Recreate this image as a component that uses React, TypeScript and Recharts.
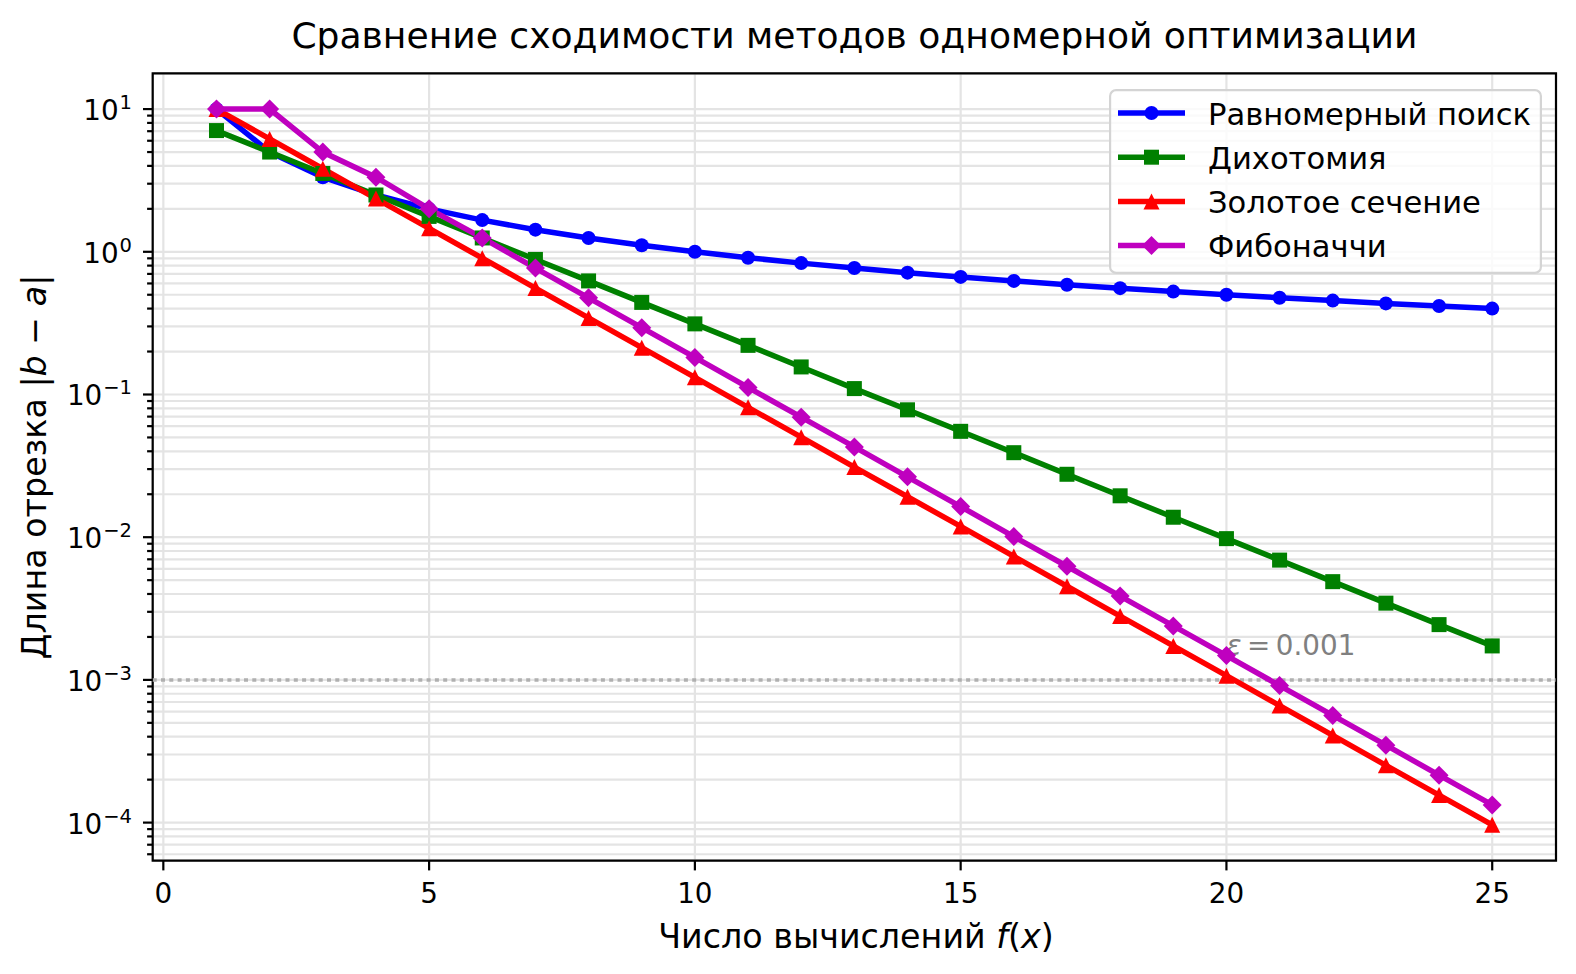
import React from 'react';
import { LineChart, Line, XAxis, YAxis, CartesianGrid, Legend, ReferenceLine, ReferenceDot, ReferenceArea } from 'recharts';

// number of f(x) evaluations
const evals = [1, 2, 3, 4, 5, 6, 7, 8, 9, 10, 11, 12, 13, 14, 15, 16, 17, 18, 19, 20, 21, 22, 23, 24, 25];

// interval length |b - a| per method
const uniformSearch = [10, 5, 3.333, 2.5, 2, 1.667, 1.429, 1.25, 1.111, 1.0, 0.909, 0.833, 0.769, 0.714, 0.667, 0.625, 0.588, 0.556, 0.526, 0.5, 0.476, 0.455, 0.435, 0.417, 0.4];
const dichotomy = [7.07, 5.0, 3.54, 2.5, 1.77, 1.25, 0.884, 0.625, 0.442, 0.3125, 0.221, 0.156, 0.11, 0.0781, 0.0552, 0.0391, 0.0276, 0.0195, 0.0138, 0.00977, 0.00691, 0.00488, 0.00345, 0.00244, 0.00173];
const goldenSection = [10, 6.18, 3.82, 2.36, 1.46, 0.902, 0.557, 0.344, 0.213, 0.132, 0.0813, 0.0502, 0.031, 0.0192, 0.0119, 0.00733, 0.00453, 0.0028, 0.00173, 0.00107, 0.000661, 0.000408, 0.000252, 0.000156, 0.0000964];
const fibonacci = [10, 10, 5, 3.33, 2, 1.25, 0.769, 0.476, 0.294, 0.182, 0.112, 0.0694, 0.0429, 0.0265, 0.0164, 0.0101, 0.00626, 0.00387, 0.00239, 0.00148, 0.000913, 0.000564, 0.000349, 0.000215, 0.000133];

const xTicks = [0, 5, 10, 15, 20, 25];
const yMajorTicks = [1e-4, 1e-3, 1e-2, 1e-1, 1, 10];
const yMinorTicks = [
  6e-5, 7e-5, 8e-5, 9e-5,
  2e-4, 3e-4, 4e-4, 5e-4, 6e-4, 7e-4, 8e-4, 9e-4,
  2e-3, 3e-3, 4e-3, 5e-3, 6e-3, 7e-3, 8e-3, 9e-3,
  2e-2, 3e-2, 4e-2, 5e-2, 6e-2, 7e-2, 8e-2, 9e-2,
  0.2, 0.3, 0.4, 0.5, 0.6, 0.7, 0.8, 0.9,
  2, 3, 4, 5, 6, 7, 8, 9,
];
const yTicks = [...yMajorTicks, ...yMinorTicks].sort((a, b) => a - b);

const epsilon = 0.001;

const rows = evals.map((n, i) => ({
  n,
  uniform: uniformSearch[i],
  dich: dichotomy[i],
  golden: goldenSection[i],
  fib: fibonacci[i],
}));

const series = [
  { key: 'uniform', name: 'Равномерный поиск', color: '#0000ff', shape: 'circle' },
  { key: 'dich', name: 'Дихотомия', color: '#008000', shape: 'square' },
  { key: 'golden', name: 'Золотое сечение', color: '#ff0000', shape: 'triangle' },
  { key: 'fib', name: 'Фибоначчи', color: '#bf00bf', shape: 'diamond' },
];

const FONT = '"DejaVu Sans", sans-serif';
const TICK_FS = 27.8;

function marker(shape: string, cx: number, cy: number, color: string, key?: any) {
  if (cx == null || cy == null) return <g key={key} />;
  if (shape === 'circle') return <circle key={key} cx={cx} cy={cy} r={7} fill={color} />;
  if (shape === 'square') return <rect key={key} x={cx - 7.5} y={cy - 7.5} width={15} height={15} fill={color} />;
  if (shape === 'triangle') {
    const h = 8;
    return <polygon key={key} points={`${cx},${cy - h} ${cx - h},${cy + h} ${cx + h},${cy + h}`} fill={color} />;
  }
  const d = 9.5;
  return <polygon key={key} points={`${cx},${cy - d} ${cx + d},${cy} ${cx},${cy + d} ${cx - d},${cy}`} fill={color} />;
}

const YTick = (props: any) => {
  const { x, y, payload } = props;
  const lg = Math.log10(payload.value);
  const e = Math.round(lg);
  const major = Math.abs(lg - e) < 1e-6;
  return (
    <g>
      <line x1={x - (major ? 9.7 : 5.6)} x2={x} y1={y} y2={y} stroke="#000" strokeWidth={2.2} />
      {major && (
        <text x={x - 20.7} y={y + 11} textAnchor="end" fontSize={TICK_FS} fontFamily={FONT} fill="#000">
          10<tspan dy={-11} dx={1} fontSize={19.5}>{e < 0 ? '\u2212' + -e : String(e)}</tspan>
        </text>
      )}
    </g>
  );
};

const XTick = (props: any) => {
  const { x, y, payload } = props;
  return (
    <g>
      <line x1={x} x2={x} y1={y} y2={y + 9.7} stroke="#000" strokeWidth={2.2} />
      <text x={x} y={y + 42.6} textAnchor="middle" fontSize={TICK_FS} fontFamily={FONT} fill="#000">
        {payload.value}
      </text>
    </g>
  );
};

const EpsLabel = (props: any) => {
  const vb = props.viewBox || {};
  return (
    <text x={vb.x} y={vb.y} fontSize={TICK_FS} fontFamily={FONT} fill="#808080">
      <tspan fontStyle="italic">ε</tspan>
      {'\u2009=\u20090.001'}
    </text>
  );
};

const LegendBox = () => (
  <svg width={433} height={185} style={{ display: 'block' }}>
    <rect x={1.1} y={1.1} width={430.8} height={182.8} rx={6} ry={6} fill="rgba(255,255,255,0.8)" stroke="#d4d4d4" strokeWidth={2.2} />
    {series.map((s, i) => {
      const cy = 24 + i * 44.2;
      return (
        <g key={s.key}>
          <line x1={9} x2={76} y1={cy} y2={cy} stroke={s.color} strokeWidth={5.5} />
          {marker(s.shape, 42.5, cy, s.color)}
          <text x={99} y={cy + 11.7} fontSize={30.6} fontFamily={FONT} fill="#000">
            {s.name}
          </text>
        </g>
      );
    })}
  </svg>
);

export default function App() {
  const yDomain = [Math.pow(10, -4.267), Math.pow(10, 1.2508)];
  return (
    <div style={{ position: 'absolute', left: 0, top: 0, width: 1576, height: 974, background: '#fff', fontFamily: FONT }}>
      <LineChart width={1576} height={974} data={rows} margin={{ top: 73.3, right: 20, bottom: 53.3, left: 52.7 }}>
        <CartesianGrid stroke="#e4e4e4" strokeWidth={2.2} />
        <XAxis
          dataKey="n"
          type="number"
          domain={[-0.2, 26.2]}
          allowDataOverflow
          ticks={xTicks}
          interval={0}
          height={60}
          axisLine={false}
          tickLine={false}
          tickSize={0}
          tickMargin={0}
          tick={<XTick />}
        />
        <YAxis
          type="number"
          scale="log"
          domain={yDomain}
          allowDataOverflow
          ticks={yTicks}
          interval={0}
          width={100}
          axisLine={false}
          tickLine={false}
          tickSize={0}
          tickMargin={0}
          tick={<YTick />}
        />
        <ReferenceLine y={epsilon} stroke="#b0b0b0" strokeWidth={3.5} strokeDasharray="4 4.3" />
        {series.map((s) => (
          <Line
            key={s.key}
            dataKey={s.key}
            name={s.name}
            stroke={s.color}
            strokeWidth={5.5}
            isAnimationActive={false}
            activeDot={false}
            dot={(p: any) => marker(s.shape, p.cx, p.cy, s.color, p.index)}
          />
        ))}
        <ReferenceDot x={20} y={0.0015} r={0} fill="none" stroke="none" label={(p: any) => <EpsLabel {...p} />} />
        <ReferenceArea x1={-0.2} x2={26.2} y1={yDomain[0]} y2={yDomain[1]} fill="none" fillOpacity={0} stroke="#000" strokeWidth={2.2} />
        <Legend
          layout="horizontal"
          verticalAlign="middle"
          align="center"
          wrapperStyle={{ left: 1109, top: 89.3, width: 433, height: 185 }}
          content={() => <LegendBox />}
        />
      </LineChart>
      <svg width={1576} height={974} style={{ position: 'absolute', left: 0, top: 0, pointerEvents: 'none' }}>
        <text x={854.4} y={47.5} textAnchor="middle" fontSize={36.1} fontFamily={FONT} fill="#000">
          Сравнение сходимости методов одномерной оптимизации
        </text>
        <text x={856} y={948} textAnchor="middle" fontSize={33.3} fontFamily={FONT} fill="#000">
          Число вычислений <tspan fontStyle="italic">f</tspan>(<tspan fontStyle="italic">x</tspan>)
        </text>
        <text x={46} y={467} textAnchor="middle" transform="rotate(-90 46 467)" fontSize={33.3} fontFamily={FONT} fill="#000">
          Длина отрезка |<tspan fontStyle="italic">b</tspan> − <tspan fontStyle="italic">a</tspan>|
        </text>
      </svg>
    </div>
  );
}
